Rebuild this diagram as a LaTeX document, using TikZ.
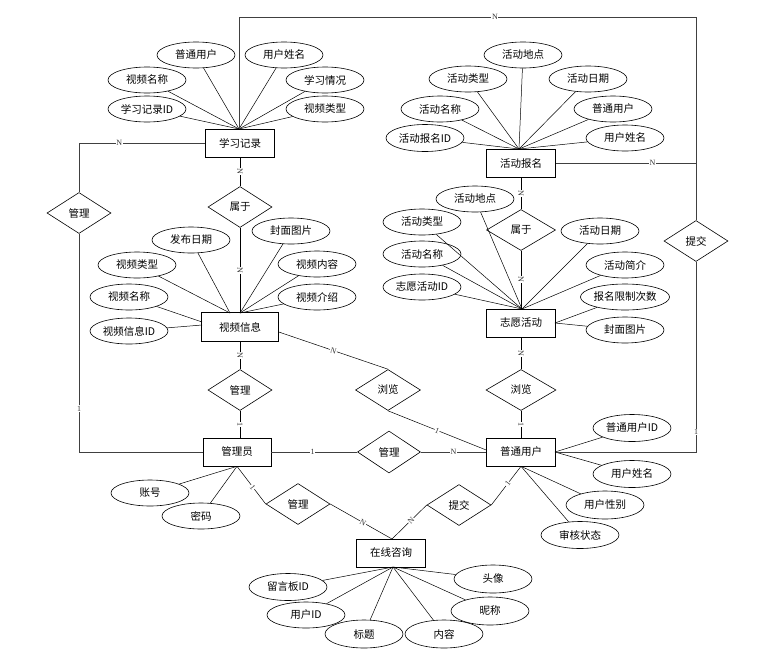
\documentclass[tikz,border=0pt]{standalone}
\usepackage{fontspec}
\setmainfont{Liberation Serif}
\newfontfamily\cjk{Noto Sans CJK SC}
\usetikzlibrary{shapes.geometric,calc}
\begin{document}
\begin{tikzpicture}[x=1pt,y=-1pt,
  every node/.style={font=\cjk\fontsize{10.5}{12}\selectfont},
  ent/.style={draw, rectangle, minimum width=69, minimum height=28, inner sep=0pt, line width=0.6pt},
  attr/.style={draw, ellipse, minimum width=78, minimum height=26, inner sep=0pt, line width=0.6pt},
  rel/.style={draw, diamond, minimum width=64, minimum height=41, inner sep=0pt, line width=0.6pt},
  al/.style={line width=0.5pt},
  cn/.style={line width=0.8pt, black!75},
  mk/.style={font=\fontsize{8}{9}\selectfont, inner sep=0.6pt, fill=white, text=black!80},
  mks/.style={mk, sloped}]
\useasboundingbox (0,0) rectangle (758,654);

% entities
\node[ent] (xx) at (240,143) {学习记录};
\node[ent] (bm) at (521,163) {活动报名};
\node[ent, minimum width=77, minimum height=29] (sp) at (240,327) {视频信息};
\node[ent] (zy) at (521,323) {志愿活动};
\node[ent, minimum width=68] (gly) at (237,452) {管理员};
\node[ent] (pt) at (521,452) {普通用户};
\node[ent] (zx) at (391,553) {在线咨询};

% relations
\node[rel] (sy1) at (240,207) {属于};
\node[rel] (gl1) at (79,213) {管理};
\node[rel, minimum width=69] (sy2) at (521,230) {属于};
\node[rel] (gl2) at (240,390) {管理};
\node[rel, minimum width=65] (ll1) at (388,390) {浏览};
\node[rel, minimum width=70] (ll2) at (521,390) {浏览};
\node[rel, minimum width=63, minimum height=42] (gl3) at (389,452) {管理};
\node[rel] (gl4) at (298,504) {管理};
\node[rel] (tj1) at (459,505) {提交};
\node[rel] (tj2) at (696,241) {提交};

% convergence points
\coordinate (xxc) at (239,129);
\coordinate (bmc) at (519,149);
\coordinate (spc) at (240,313);
\coordinate (spcl) at (230,313);
\coordinate (spl1) at (202,322);
\coordinate (spl2) at (202,325);
\coordinate (zyc) at (522,309);
\coordinate (zyr) at (555,323);
\coordinate (zxc) at (393,567);
\coordinate (zxt) at (392,539);
\coordinate (tr) at (696,17);
\coordinate (ptr) at (555,452);

% attributes of 学习记录
\node[attr] (xx1) at (196,55) {普通用户};
\node[attr] (xx2) at (284,55) {用户姓名};
\node[attr] (xx3) at (147,80) {视频名称};
\node[attr] (xx4) at (325,80) {学习情况};
\node[attr] (xx5) at (147,109) {学习记录ID};
\node[attr] (xx6) at (325,109) {视频类型};
\foreach \a in {xx1,xx2,xx3,xx4,xx5,xx6} \draw[al] (\a) -- (xxc);

% attributes of 活动报名
\node[attr] (bm1) at (523,55) {活动地点};
\node[attr] (bm2) at (468,79) {活动类型};
\node[attr] (bm3) at (588,79) {活动日期};
\node[attr] (bm4) at (440,109) {活动名称};
\node[attr] (bm5) at (613,109) {普通用户};
\node[attr, minimum height=27] (bm6) at (425,138) {活动报名ID};
\node[attr] (bm7) at (625,138) {用户姓名};
\foreach \a in {bm1,bm2,bm3,bm4,bm5,bm6,bm7} \draw[al] (\a) -- (bmc);

% attributes of 视频信息
\node[attr] (sp1) at (191,240) {发布日期};
\node[attr] (sp2) at (291,231) {封面图片};
\node[attr] (sp3) at (137,265) {视频类型};
\node[attr] (sp4) at (317,264) {视频内容};
\node[attr] (sp5) at (129,297) {视频名称};
\node[attr] (sp6) at (317,297) {视频介绍};
\node[attr] (sp7) at (129,331) {视频信息ID};
\draw[al] (sp1) -- (spcl);
\draw[al] (sp3) -- (spcl);
\draw[al] (sp2) -- (spc);
\draw[al] (sp4) -- (spc);
\draw[al] (sp6) -- (spc);
\draw[al] (sp5) -- (spl1);
\draw[al] (sp7) -- (spl2);

% attributes of 志愿活动
\node[attr] (zy1) at (475,199) {活动地点};
\node[attr] (zy2) at (422,222) {活动类型};
\node[attr] (zy3) at (600,231) {活动日期};
\node[attr] (zy4) at (422,254) {活动名称};
\node[attr] (zy5) at (625,265) {活动简介};
\node[attr] (zy6) at (422,287) {志愿活动ID};
\node[attr] (zy7) at (625,297) {报名限制次数};
\node[attr] (zy8) at (625,330) {封面图片};
\foreach \a in {zy1,zy2,zy3,zy4,zy5,zy6} \draw[al] (\a) -- (zyc);
\draw[al] (zy7) -- (zyr);
\draw[al] (zy8) -- (zyr);

% attributes of 管理员
\node[attr] (ga) at (150,493) {账号};
\node[attr] (gb) at (201,516) {密码};
\draw[al] (ga) -- (gly.south);
\draw[al] (gb) -- (gly.south);

% attributes of 普通用户
\node[attr, minimum height=27] (pt1) at (632,428) {普通用户ID};
\node[attr, minimum height=27] (pt2) at (632,474) {用户姓名};
\node[attr, minimum height=28] (pt3) at (605,505) {用户性别};
\node[attr, minimum height=27] (pt4) at (580,535) {审核状态};
\draw[al] (pt1) -- (ptr);
\draw[al] (pt2) -- (ptr);
\draw[al] (pt3) -- (pt.south);
\draw[al] (pt4) -- (pt.south);

% attributes of 在线咨询
\node[attr, minimum height=27] (zx1) at (288,587) {留言板ID};
\node[attr] (zx2) at (306,615) {用户ID};
\node[attr, minimum height=28] (zx3) at (364,634) {标题};
\node[attr, minimum height=28] (zx4) at (444,634) {内容};
\node[attr, minimum height=28] (zx5) at (493,579) {头像};
\node[attr, minimum height=28] (zx6) at (490,611) {昵称};
\foreach \a in {zx1,zx2,zx3,zx4,zx5,zx6} \draw[al] (\a) -- (zxc);

% relationship connectors
\draw[cn] (xxc) |- node[mk, pos=0.78] {N} (tr) -- (tj2.north);
\draw[cn] (bm.east) -- node[mk, pos=0.69] {N} (bm.east -| tr);
\draw[cn] (tj2.south) |- node[mk, pos=0.447] {1} (pt.east);
\draw[cn] (xx.west) -| node[mk, pos=0.34] {N} (gl1.north);
\draw[cn] (gl1.south) |- node[mk, pos=0.4] {1} (gly.west);

\draw[al] (xx.south) -- node[mks] {N} (sy1.north);
\draw[al] (sy1.south) -- node[mks, pos=0.51] {N} (sp.north);
\draw[al] (sp.south) -- node[mks] {N} (gl2.north);
\draw[al] (gl2.south) -- node[mks] {1} (gl2.south |- gly.north);

\draw[al] (bm.south) -- node[mks] {N} (sy2.north);
\draw[al] (sy2.south) -- node[mks, pos=0.5] {N} (zy.north);
\draw[al] (zy.south) -- node[mks] {N} (ll2.north);
\draw[al] (ll2.south) -- node[mks] {1} (pt.north);

\draw[al] ($(sp.east)+(0,5)$) -- node[mks] {N} (ll1.north);
\draw[al] (ll1.south) -- node[mks] {1} ($(pt.west)+(0,-2)$);

\draw[cn] (gly.east) -- node[mk, pos=0.48] {1} (gl3.west);
\draw[cn] (gl3.east) -- node[mk] {N} (pt.west);

\draw[al] (gly.south) -- node[mks, pos=0.55] {1} (gl4.west);
\draw[al] (gl4.east) -- node[mks, pos=0.53] {N} (zxt);
\draw[al] (pt.south) -- node[mks, pos=0.45] {1} (tj1.east);
\draw[al] (tj1.west) -- node[mks, pos=0.45] {N} (zxt);
\end{tikzpicture}
\end{document}
